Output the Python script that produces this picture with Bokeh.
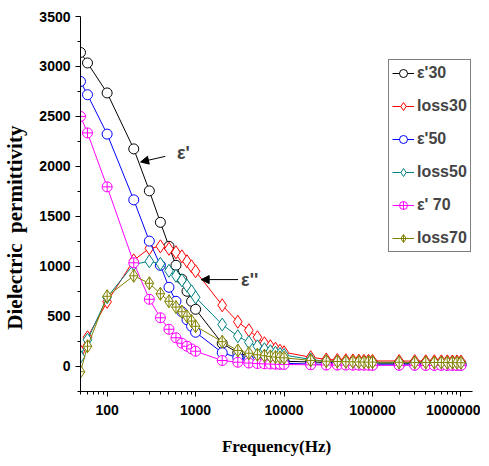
from bokeh.plotting import figure
from bokeh.models import (Range1d, FixedTicker, CustomJSTickFormatter, Legend, LegendItem,
                          Arrow, NormalHead, Label)
from bokeh.embed import file_html
from bokeh.resources import INLINE

freq = [50, 60, 100, 200, 300, 400, 500, 600, 700, 800, 900, 1000,
        2000, 3000, 4000, 5000, 6000, 7000, 8000, 9000, 10000,
        20000, 30000, 40000, 50000, 60000, 70000, 80000, 90000, 100000,
        200000, 300000, 400000, 500000, 600000, 700000, 800000, 900000, 1000000]

eps30 = [3140, 3035, 2735, 2175, 1755, 1440, 1200, 1010, 870, 750, 650, 570,
         228, 135, 100, 82, 72, 64, 58, 54, 50,
         42, 38, 36, 35, 34, 33, 32, 32, 31,
         30, 29, 28, 28, 27, 27, 26, 26, 25]
loss30 = [150, 290, 645, 1060, 1180, 1200, 1175, 1140, 1100, 1050, 1000, 950,
          610, 445, 360, 290, 230, 200, 175, 155, 140,
          90, 68, 62, 60, 58, 56, 55, 54, 53,
          52, 51, 50, 50, 49, 49, 48, 48, 47]
eps50 = [2850, 2717, 2323, 1665, 1252, 1010, 790, 650, 545, 465, 400, 340,
         135, 85, 62, 50, 43, 38, 34, 31, 29,
         22, 19, 18, 17, 17, 16, 16, 15, 15,
         14, 14, 13, 13, 13, 12, 12, 12, 12]
loss50 = [95, 265, 690, 1020, 1050, 1025, 955, 905, 860, 805, 750, 690,
          417, 300, 240, 200, 170, 150, 135, 122, 112,
          68, 48, 43, 40, 38, 37, 36, 35, 35,
          33, 32, 32, 31, 31, 30, 30, 30, 30]
eps70 = [2500, 2335, 1795, 1035, 670, 485, 370, 285, 230, 200, 173, 150,
         57, 40, 32, 27, 24, 22, 20, 19, 18,
         14, 12, 11, 11, 10, 10, 10, 10, 9,
         9, 9, 8, 8, 8, 8, 8, 8, 8]
loss70 = [-55, 200, 700, 905, 830, 725, 650, 592, 545, 500, 452, 400,
          245, 158, 130, 115, 105, 98, 92, 88, 84,
          58, 50, 47, 45, 44, 43, 42, 41, 41,
          39, 38, 38, 37, 37, 36, 36, 36, 35]

series_labels = ["ε'30", "loss30", "ε'50", "loss50", "ε' 70", "loss70"]
series_values = [eps30, loss30, eps50, loss50, eps70, loss70]
series_colors = ["#000000", "#FF0000", "#0000FF", "#008080", "#FF00FF", "#808000"]
series_markers = ["circle", "diamond", "circle", "diamond", "circle_cross", "diamond_cross"]
series_sizes = [10, 13, 10, 13, 10, 13]

x_major = [100, 1000, 10000, 100000, 1000000]
x_minor = [m * 10 ** d for d in range(1, 6) for m in range(2, 10)] + [1000000]
y_major = [0, 500, 1000, 1500, 2000, 2500, 3000, 3500]
y_minor = [-250, 250, 750, 1250, 1750, 2250, 2750, 3250]

p = figure(width=480, height=460, x_axis_type="log",
           x_range=Range1d(50, 1.35e6), y_range=Range1d(-253, 3500),
           output_backend="svg", toolbar_location=None,
           min_border_left=78, min_border_right=8, min_border_top=16, min_border_bottom=69)
p.xgrid.visible = False
p.ygrid.visible = False
p.outline_line_color = None

items = []
for lab, vals, col, mk, sz in zip(series_labels, series_values, series_colors, series_markers, series_sizes):
    lr = p.line(freq, vals, line_color=col, line_width=1)
    sr = p.scatter(freq, vals, marker=mk, size=sz, line_color=col, fill_color="white", line_width=1)
    items.append(LegendItem(label=lab, renderers=[lr, sr]))

legend = Legend(items=items, location=(308, 139), border_line_color="black", border_line_width=1,
                background_fill_color="white", background_fill_alpha=1,
                label_text_font="Liberation Sans", label_text_font_style="bold",
                label_text_font_size="16px", glyph_width=22, glyph_height=20,
                label_height=20, spacing=13, padding=3, margin=0, label_standoff=3)
p.add_layout(legend, "center")

for ax in (p.xaxis[0], p.yaxis[0]):
    ax.axis_line_color = "black"
    ax.axis_line_width = 1
    ax.major_tick_line_color = "black"
    ax.minor_tick_line_color = "black"
    ax.major_tick_in = 0
    ax.major_tick_out = 5
    ax.minor_tick_in = 0
    ax.minor_tick_out = 3
    ax.major_label_text_font = "Liberation Sans"
    ax.major_label_text_font_style = "bold"
    ax.major_label_text_font_size = "14px"
    ax.major_label_text_color = "black"
    ax.axis_label_text_font = "Liberation Serif"
    ax.axis_label_text_font_style = "bold"
    ax.axis_label_text_color = "black"

p.xaxis.ticker = FixedTicker(ticks=x_major, minor_ticks=x_minor)
p.xaxis.formatter = CustomJSTickFormatter(code="return tick.toFixed(0);")
p.xaxis.axis_label = "Frequency(Hz)"
p.xaxis.axis_label_text_font_size = "17px"
p.xaxis.major_label_standoff = 8
p.xaxis.axis_label_standoff = 19

p.yaxis.ticker = FixedTicker(ticks=y_major, minor_ticks=y_minor)
p.yaxis.axis_label = "Dielectric\u00a0\u00a0permittivity" + "\u00a0" * 9
p.yaxis.axis_label_text_font_size = "21px"
p.yaxis.major_label_standoff = 5
p.yaxis.axis_label_standoff = 9

# annotations (data coordinates)
ann_eps1 = dict(tail=(454, 2100), head=(239, 2044), text_pos=(615, 2133), text="ε'")
ann_eps2 = dict(tail=(3020, 867), head=(1156, 867), text_pos=(3270, 867), text="ε''")
for a in (ann_eps1, ann_eps2):
    p.add_layout(Arrow(end=NormalHead(size=8, fill_color="black", line_color="black"),
                       x_start=a["tail"][0], y_start=a["tail"][1],
                       x_end=a["head"][0], y_end=a["head"][1],
                       line_color="black", line_width=1))
    p.add_layout(Label(x=a["text_pos"][0], y=a["text_pos"][1], text=a["text"],
                       text_font="Liberation Sans", text_font_style="bold",
                       text_font_size="18px", text_baseline="middle", text_align="left"))

open("out.html", "w").write(file_html(p, INLINE))
